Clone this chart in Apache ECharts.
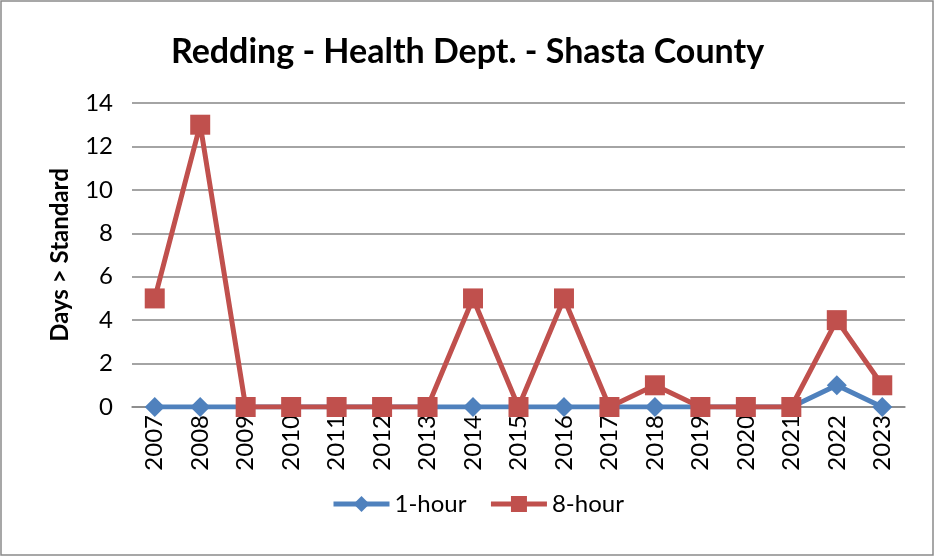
<!DOCTYPE html>
<html>
<head>
<meta charset="utf-8">
<script src="https://cdn.jsdelivr.net/npm/echarts@6/dist/echarts.min.js"></script>
<style>
  html, body { margin: 0; padding: 0; background: #fff; }
  #main { width: 935px; height: 557px; }
</style>
</head>
<body>
<div id="main"></div>
<script>
// data
const years = ['2007', '2008', '2009', '2010', '2011', '2012', '2013', '2014', '2015',
  '2016', '2017', '2018', '2019', '2020', '2021', '2022', '2023'];
const oneHour = [0, 0, 0, 0, 0, 0, 0, 0, 0, 0, 0, 0, 0, 0, 0, 1, 0];
const eightHour = [5, 13, 0, 0, 0, 0, 0, 5, 0, 5, 0, 1, 0, 0, 0, 4, 1];
const seriesNames = ['1-hour', '8-hour'];

const font = 'Lato, "Open Sans", sans-serif';

const chart = echarts.init(document.getElementById('main'));
const option = {
  animation: false,
  backgroundColor: '#fff',
  title: {
    text: 'Redding - Health Dept. - Shasta County',
    left: 'center',
    top: 30,
    textStyle: { fontFamily: font, fontSize: 34, fontWeight: 'bold', color: '#000' }
  },
  graphic: [{
    type: 'rect',
    shape: { x: 1, y: 1, width: 932, height: 554 },
    style: { fill: 'none', stroke: '#8a8a8a', lineWidth: 1.5 },
    silent: true
  }],
  legend: {
    data: seriesNames,
    bottom: 36,
    left: 326,
    itemWidth: 56,
    itemHeight: 20,
    itemGap: 22,
    lineStyle: { width: 5 },
    textStyle: { fontFamily: font, fontSize: 24, color: '#000' }
  },
  grid: { left: 132, right: 30, top: 103, bottom: 150 },
  xAxis: {
    type: 'category',
    data: years,
    boundaryGap: true,
    axisLine: { lineStyle: { color: '#868686', width: 1.5 } },
    axisTick: { show: false },
    axisLabel: { rotate: 90, margin: 8, fontFamily: font, fontSize: 24, color: '#000' }
  },
  yAxis: {
    type: 'value',
    min: 0,
    max: 14,
    interval: 2,
    name: 'Days > Standard',
    nameLocation: 'middle',
    nameGap: 60,
    nameTextStyle: { fontFamily: font, fontSize: 24, fontWeight: 'bold', color: '#000' },
    axisLine: { show: false },
    axisTick: { show: false },
    axisLabel: { margin: 19, fontFamily: font, fontSize: 24, color: '#000' },
    splitLine: { lineStyle: { color: '#868686', width: 1.5 } }
  },
  series: [
    {
      name: seriesNames[0],
      type: 'line',
      data: oneHour,
      symbol: 'diamond',
      symbolSize: 20,
      color: '#4F81BD',
      lineStyle: { width: 5, color: '#4F81BD' },
      itemStyle: { color: '#4F81BD' },
      z: 2
    },
    {
      name: seriesNames[1],
      type: 'line',
      data: eightHour,
      symbol: 'rect',
      symbolSize: 20,
      color: '#C0504D',
      lineStyle: { width: 5, color: '#C0504D' },
      itemStyle: { color: '#C0504D' },
      z: 3
    }
  ]
};
chart.setOption(option);
</script>
</body>
</html>
